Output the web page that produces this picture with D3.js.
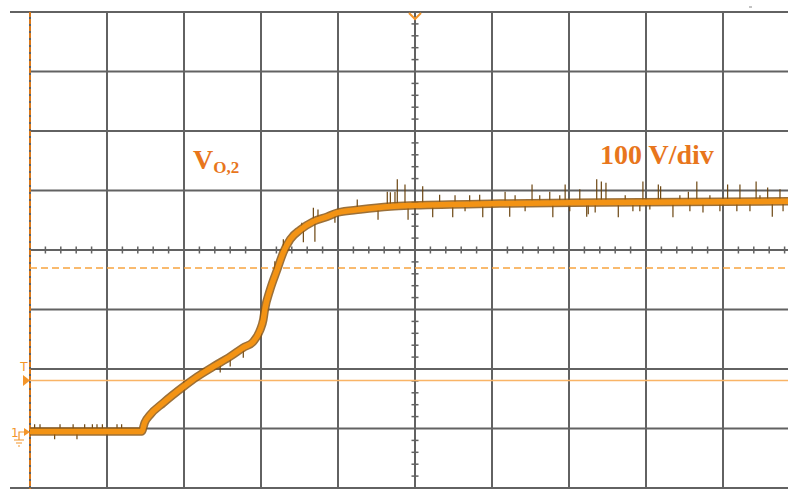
<!DOCTYPE html>
<html>
<head>
<meta charset="utf-8">
<script src="https://cdn.jsdelivr.net/npm/d3@7"></script>
<style>
  body { margin: 0; background: white; }
</style>
</head>
<body>
<div id="canvas"></div>
<script>
"use strict"

/* ---------- data (time in divisions, voltage in volts) ---------- */
let traceTime = [-5, -3.55, -3.51, -3.44, -3.27, -3.00, -2.83, -2.62, -2.40, -2.23, -2.10,
  -2.01, -1.97, -1.95, -1.88, -1.79, -1.71, -1.62, -1.49, -1.32, -1.14, -1.00,
  -0.71, -0.32, 0, 1.10, 2.40, 5];
let traceVolt = [0, 0, 15, 28, 48, 76, 92, 109, 126, 141, 151,
  171, 188, 205, 239, 272, 301, 323, 339, 353, 361, 368,
  373, 378, 380, 383, 385, 387];

// noise spikes: time and tip voltage
let spikeTime = [-4.94, -4.87, -4.61, -4.44, -4.29, -4.19, -4.13, -4.06, -3.87, -3.81, -4.68, -4.39,
  -2.53, -2.40, -2.23, -1.82, -1.71, -1.47, -1.45, -1.32, -1.30, -1.26, -1.04, -0.75, -0.48,
  -0.36, -0.32, -0.26, -0.23, -0.13, -0.09, 0.10, 0.23, 0.32, 0.49, 0.84, 0.88, 1.17, 1.23,
  1.52, 1.75, 1.79, 1.95, 2.14, 2.23, 2.25, 2.34, 2.36, 2.42, 2.48, 2.64, 2.83, 2.96, 3.05,
  3.16, 3.19, 3.35, 3.55, 3.66, 3.74, 4.06, 4.18, 4.22, 4.43, 4.58, 4.64, 4.74,
  0.52, 0.71, 1.30, 1.62, 1.88, 2.73, 3.44, 3.83, 4.48,
  0.65, 1.43, 2.01, 2.92, 3.57, 3.96, 4.35, 4.78];
let spikeVolt = [12, 12, 12, 12, 12, 12, 12, 12, 12, 12, -13, -13,
  99, 109, 124, 286, 323, 351, 318, 376, 319, 373, 351, 390, 356,
  403, 402, 403, 424, 415, 356, 412, 360, 398, 360, 398, 360, 403, 361,
  415, 403, 360, 415, 407, 361, 365, 368, 424, 420, 418, 360, 370, 420, 373,
  415, 412, 360, 403, 420, 368, 415, 370, 415, 420, 410, 361, 407,
  397, 397, 397, 397, 397, 397, 397, 397, 397,
  370, 370, 370, 370, 370, 370, 370, 370];

let voltsPerDiv = 100;
let groundDiv = -3.05;   // ground marker sits 3.05 div below centre

/* ---------- canvas ---------- */
let drawing = d3.select("#canvas")
  .append("svg")
  .attr("width", 788)
  .attr("height", 489);

let x = d3.scaleLinear().domain([-5, 5]).range([30, 800]);
let yDiv = d3.scaleLinear().domain([-4, 4]).range([488, 12]);
let y = d3.scaleLinear()
  .domain([(-4 - groundDiv) * voltsPerDiv, (4 - groundDiv) * voltsPerDiv])
  .range([488, 12]);

let gridColor = "#626262";

/* ---------- grid ---------- */
drawing.append("g").selectAll("line")
  .data(d3.range(-5, 6))
  .join("line")
  .attr("x1", d => x(d)).attr("x2", d => x(d))
  .attr("y1", 12).attr("y2", 489)
  .attr("stroke", gridColor).attr("stroke-width", 2);

drawing.append("g").selectAll("line")
  .data(d3.range(-4, 5))
  .join("line")
  .attr("x1", d => d === 4 || d === -4 ? 10 : 30).attr("x2", 788)
  .attr("y1", d => yDiv(d)).attr("y2", d => yDiv(d))
  .attr("stroke", gridColor).attr("stroke-width", 2);

/* minor ticks on centre axes */
let minorX = d3.range(-25, 26).filter(k => k % 5 !== 0).map(k => k / 5);
drawing.append("g").selectAll("line")
  .data(minorX)
  .join("line")
  .attr("x1", d => x(d)).attr("x2", d => x(d))
  .attr("y1", yDiv(0) - 3.5).attr("y2", yDiv(0) + 3.5)
  .attr("stroke", gridColor).attr("stroke-width", 1.5);

let minorY = d3.range(-20, 21).filter(k => k % 5 !== 0).map(k => k / 5);
drawing.append("g").selectAll("line")
  .data(minorY)
  .join("line")
  .attr("x1", x(0) - 3.5).attr("x2", x(0) + 3.5)
  .attr("y1", d => yDiv(d)).attr("y2", d => yDiv(d))
  .attr("stroke", gridColor).attr("stroke-width", 1.5);

/* small mark top right */
drawing.append("line")
  .attr("x1", 749).attr("x2", 752).attr("y1", 7).attr("y2", 7)
  .attr("stroke", "#888").attr("stroke-width", 1);

/* ---------- cursor / marker lines ---------- */
drawing.append("line")   // left edge dashed
  .attr("x1", 30).attr("x2", 30).attr("y1", 12).attr("y2", 489)
  .attr("stroke", "#d9781a").attr("stroke-width", 2)
  .attr("stroke-dasharray", "5,2");

drawing.append("line")   // dashed level
  .attr("x1", 30).attr("x2", 788)
  .attr("y1", 268).attr("y2", 268)
  .attr("stroke", "#f7a43f").attr("stroke-width", 1.5)
  .attr("stroke-dasharray", "7,4");

drawing.append("line")   // trigger level
  .attr("x1", 30).attr("x2", 788)
  .attr("y1", 380.5).attr("y2", 380.5)
  .attr("stroke", "#f9b466").attr("stroke-width", 1.5);

let markColor = "#f3952a";

/* trigger position chevron at top */
drawing.append("path")
  .attr("d", `M${x(0) - 6},13 L${x(0)},19 L${x(0) + 6},13`)
  .attr("fill", "none").attr("stroke", markColor).attr("stroke-width", 2);

/* trigger level marker "T" + arrow */
drawing.append("text")
  .attr("x", 24).attr("y", 371)
  .attr("text-anchor", "middle")
  .attr("font-family", "DejaVu Sans").attr("font-size", 12)
  .attr("fill", markColor)
  .text("T");
drawing.append("path")
  .attr("d", "M23,375 L30,380.5 L23,386 Z")
  .attr("fill", markColor);

/* channel 1 ground marker */
drawing.append("text")
  .attr("x", 11).attr("y", 437)
  .attr("font-family", "DejaVu Sans").attr("font-size", 12)
  .attr("fill", markColor)
  .text("1");
drawing.append("path")
  .attr("d", "M24,428 L30,432 L24,436 Z")
  .attr("fill", markColor);
drawing.append("path")
  .attr("d", "M24,432 L19,432 L19,440 M14,440 L24,440 M16,443 L22,443 M18,446 L20,446")
  .attr("fill", "none").attr("stroke", markColor).attr("stroke-width", 1.2);

/* ---------- trace ---------- */
let traceAt = d3.scaleLinear().domain(traceTime).range(traceVolt);

drawing.append("g").selectAll("line")
  .data(spikeTime.map((t, i) => [t, spikeVolt[i]]))
  .join("line")
  .attr("x1", d => x(d[0])).attr("x2", d => x(d[0]))
  .attr("y1", d => y(traceAt(d[0]))).attr("y2", d => y(d[1]))
  .attr("stroke", "#6b4510").attr("stroke-width", 1.2);

let traceLine = d3.line()
  .x(d => x(d[0]))
  .y(d => y(d[1]))
  .curve(d3.curveMonotoneX);
let tracePts = traceTime.map((t, i) => [t, traceVolt[i]]);

drawing.append("path")
  .attr("d", traceLine(tracePts))
  .attr("fill", "none")
  .attr("stroke", "#8a5716").attr("stroke-opacity", 0.85).attr("stroke-width", 8.5);

drawing.append("path")
  .attr("d", traceLine(tracePts))
  .attr("fill", "none")
  .attr("stroke", "#f39314").attr("stroke-width", 5.5);

/* ---------- labels ---------- */
let labelColor = "#e8761c";
let vLabel = drawing.append("text")
  .attr("x", 193).attr("y", 169)
  .attr("font-family", "Liberation Serif").attr("font-weight", "bold")
  .attr("font-size", 28)
  .attr("fill", labelColor);
vLabel.append("tspan").text("V");
vLabel.append("tspan").attr("dy", 4).attr("font-size", 17).text("O,2");

drawing.append("text")
  .attr("x", 600).attr("y", 164)
  .attr("font-family", "Liberation Serif").attr("font-weight", "bold")
  .attr("font-size", 28)
  .attr("fill", labelColor)
  .text("100 V/div");
</script>
</body>
</html>
